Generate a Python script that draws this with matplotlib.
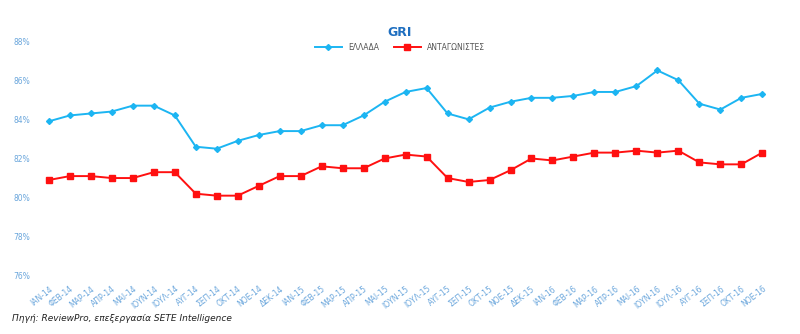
import numpy as np
import matplotlib
matplotlib.use("Agg")
import matplotlib.pyplot as plt

plt.rcParams['font.family'] = ['DejaVu Sans']

months = ["ΙΑΝ", "ΦΕΒ", "ΜΑΡ", "ΑΠΡ", "ΜΑΙ", "ΙΟΥΝ", "ΙΟΥΛ", "ΑΥΓ", "ΣΕΠ", "ΟΚΤ", "ΝΟΕ", "ΔΕΚ"]
labels = [f"{m}-{y}" for y in ["14", "15", "16"] for m in months][:35]

ellada = [83.9, 84.2, 84.3, 84.4, 84.7, 84.7, 84.2, 82.6, 82.5, 82.9, 83.2, 83.4,
          83.4, 83.7, 83.7, 84.2, 84.9, 85.4, 85.6, 84.3, 84.0, 84.6, 84.9, 85.1,
          85.1, 85.2, 85.4, 85.4, 85.7, 86.5, 86.0, 84.8, 84.5, 85.1, 85.3]
antagonistes = [80.9, 81.1, 81.1, 81.0, 81.0, 81.3, 81.3, 80.2, 80.1, 80.1, 80.6, 81.1,
                81.1, 81.6, 81.5, 81.5, 82.0, 82.2, 82.1, 81.0, 80.8, 80.9, 81.4, 82.0,
                81.9, 82.1, 82.3, 82.3, 82.4, 82.3, 82.4, 81.8, 81.7, 81.7, 82.3]
yticks = [76, 78, 80, 82, 84, 86, 88]

blue = "#1cb5f2"
red = "#ff1010"
tick_col = "#6aa6dc"

fig = plt.figure(figsize=(8, 3.34), dpi=100)
ax = fig.add_axes([0.048, 0.174, 0.918, 0.703])
x = np.arange(len(labels))
ax.plot(x, ellada, color=blue, lw=1.4, marker="D", ms=3, label="ΕΛΛΑΔΑ")
ax.plot(x, antagonistes, color=red, lw=1.4, marker="s", ms=3.8, label="ΑΝΤΑΓΩΝΙΣΤΕΣ")

ax.set_xlim(-0.5, len(labels) - 0.5)
ax.set_ylim(76, 88)
ax.set_yticks(yticks)
ax.set_yticklabels([f"{v}%" for v in yticks], fontsize=5.5, color=tick_col)
ax.set_xticks(x)
ax.set_xticklabels(labels, rotation=38, ha="right", rotation_mode="anchor",
                   fontsize=5.5, color=tick_col)
ax.tick_params(length=0, pad=6)
for s in ax.spines.values():
    s.set_visible(False)

fig.text(0.5, 0.904, "GRI", ha="center", va="center", fontsize=9, fontweight="bold", color="#1f6fc0")
fig.legend(loc="center", bbox_to_anchor=(0.5, 0.859), ncol=2, frameon=False,
           fontsize=5.5, labelcolor="#555555", handlelength=3.5, columnspacing=2)
fig.text(0.015, 0.045, "Πηγή: ReviewPro, επεξεργασία SETE Intelligence", fontsize=6.5,
         style="italic", color="#222222", ha="left", va="center")

fig.savefig("out.png", dpi=100)
